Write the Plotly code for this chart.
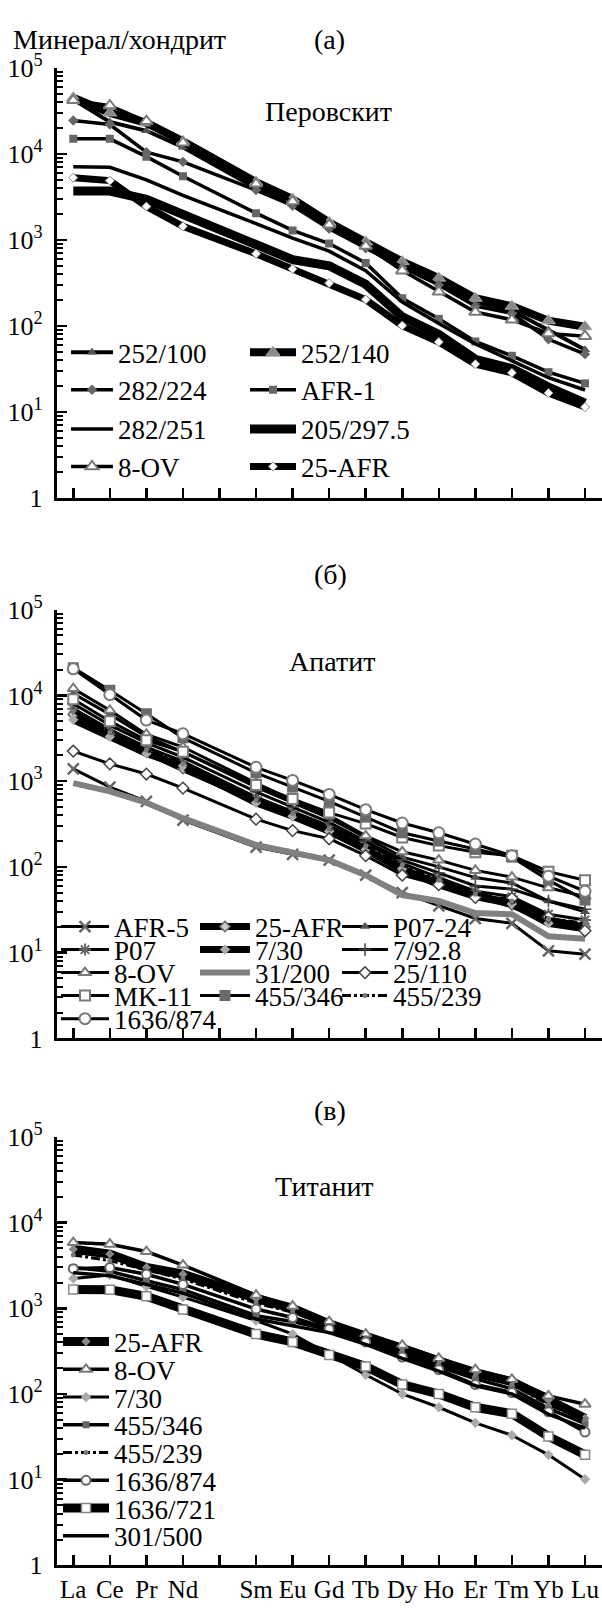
import plotly.graph_objects as go

# ---------------- data ----------------
ree = ["La", "Ce", "Pr", "Nd", "Sm", "Eu", "Gd", "Tb", "Dy", "Ho", "Er", "Tm", "Yb", "Lu"]
axis_labels = ["La", "Ce", "Pr", "Nd", "", "Sm", "Eu", "Gd", "Tb", "Dy", "Ho", "Er", "Tm", "Yb", "Lu"]

# (a) perovskite
per_252_100 = [43000, 23600, 18600, 12000, 4000, 2600, 1450, 900, 500, 320, 190, 150, 90, 53]
per_252_140 = [45000, 30000, 23000, 14000, 4700, 3000, 1600, 950, 560, 360, 210, 170, 115, 98]
per_282_224 = [24500, 22000, 10500, 8100, 3800, 2500, 1350, 800, 480, 300, 170, 140, 70, 47]
per_AFR_1 = [15000, 15000, 9300, 5500, 2050, 1290, 910, 540, 210, 121, 66, 45, 29, 21.5]
per_282_251 = [7100, 7000, 5000, 3300, 1550, 1050, 740, 440, 190, 107, 62, 39, 25, 18]
per_205_297 = [3700, 3700, 2970, 2000, 875, 590, 500, 305, 128, 80, 41, 32, 19.5, 12.7]
per_8_OV = [42000, 36500, 24000, 13500, 4500, 2800, 1500, 850, 440, 250, 145, 118, 82, 76]
per_25_AFR = [5300, 4900, 2450, 1440, 690, 460, 315, 203, 101, 65, 36, 28.5, 16.6, 11.4]

# (б) apatite
ap_AFR_5 = [1390, 850, 580, 350, 170, 140, 120, 80, 50, 35, 25, 22, 10.5, 9.6]
ap_25_AFR = [6000, 3500, 2200, 1400, 600, 400, 270, 160, 92, 65, 48, 36, 24, 20]
ap_P07_24 = [10500, 6000, 3300, 2200, 850, 560, 370, 220, 130, 100, 75, 65, 40, 30]
ap_P07 = [7000, 4000, 2500, 1700, 650, 440, 300, 190, 110, 75, 52, 45, 28, 24]
ap_7_30 = [5200, 3300, 2100, 1500, 560, 390, 260, 160, 95, 62, 45, 37, 22, 19]
ap_7_92 = [8000, 4500, 2800, 1900, 750, 500, 330, 200, 120, 85, 60, 55, 40, 32]
ap_8_OV = [12000, 6700, 3500, 2500, 950, 600, 400, 230, 150, 120, 91, 76, 57, 45]
ap_31_200 = [950, 760, 560, 370, 180, 145, 120, 80, 47, 40, 29, 28, 15.5, 14.5]
ap_25_110 = [2240, 1590, 1210, 830, 360, 265, 213, 135, 80, 62, 44, 43, 26, 18]
ap_MK_11 = [9000, 5000, 3000, 2200, 900, 620, 430, 320, 220, 177, 148, 135, 88, 70]
ap_455_346 = [21000, 11500, 6100, 3200, 1250, 850, 580, 380, 250, 200, 160, 130, 70, 41]
ap_455_239 = [6500, 3700, 2300, 1600, 600, 420, 280, 175, 105, 70, 48, 40, 25, 22]
ap_1636_874 = [20400, 10200, 5150, 3570, 1450, 1020, 700, 465, 325, 250, 185, 135, 78, 52]

# (в) titanite
ti_25_AFR = [4900, 4300, 3000, 2500, 1300, 1000, 660, 480, 350, 245, 175, 140, 85, 52]
ti_8_OV = [5850, 5600, 4600, 3200, 1420, 1060, 700, 500, 370, 260, 192, 148, 95, 76]
ti_7_30 = [2230, 2450, 1800, 1350, 720, 500, 290, 168, 100, 70, 46, 33, 19.5, 10.1]
ti_455_346 = [3000, 2700, 2100, 1650, 820, 700, 560, 420, 290, 210, 150, 115, 68, 45]
ti_455_239 = [4200, 3600, 2800, 2200, 1150, 900, 620, 450, 320, 230, 165, 130, 75, 50]
ti_1636_874 = [2900, 3000, 2500, 1900, 980, 780, 575, 405, 270, 192, 129, 104, 62, 36]
ti_1636_721 = [1660, 1650, 1380, 970, 500, 405, 285, 210, 129, 100, 70, 59, 32, 19.5]
ti_301_500 = [2600, 2400, 1900, 1500, 750, 620, 520, 380, 260, 185, 125, 100, 58, 40]

x_pos = [axis_labels.index(e) for e in ree]

# ---------------- figure ----------------
W, H = 602, 1613
FONT = "Liberation Serif, DejaVu Serif, Tinos, Times New Roman, Times, serif"
G = "#7a7a7a"


def py(p):
    return 1 - p / H


fig = go.Figure()
legend_layouts = {}
_count = [0]


def add(panel, name, values, pos, lw=3, lcolor="black", dash="solid",
        symbol=None, ms=8, mcolor=G, mlc=None, mlw=0):
    """pos = (symbol start x px, row centre y px, symbol width px)"""
    _count[0] += 1
    key = "legend" if _count[0] == 1 else "legend%d" % _count[0]
    sx, sy, iw = pos
    legend_layouts[key] = dict(
        x=(sx - 5) / W, y=py(sy), xanchor="left", yanchor="middle",
        itemwidth=iw, font=dict(family=FONT, size=27, color="black"),
        bgcolor="rgba(0,0,0,0)", borderwidth=0,
        itemclick=False, itemdoubleclick=False)
    sfx = "" if panel == 1 else str(panel)
    mode = "lines+markers" if symbol else "lines"
    marker = dict(symbol=symbol or "circle", size=ms, color=mcolor,
                  line=dict(color=mlc or mcolor, width=mlw))
    fig.add_trace(go.Scatter(
        x=x_pos, y=values, name=name, mode=mode, legend=key,
        xaxis="x" + sfx, yaxis="y" + sfx,
        line=dict(color=lcolor, width=lw, dash=dash),
        marker=marker, showlegend=True))


# legend grid positions (pixels)
A1, A2 = (71, 42), (250, 46)
A_rows = [341.7, 380, 420, 458.3]
B1, B2, B3 = (61, 48), (200, 50), (342, 46)
B_rows = [928, 951.5, 975, 998.5, 1022]
C1 = (63, 46)
C_rows = [1351.7 + 28.33 * k for k in range(8)]


def P(col, row):
    return (col[0], row, col[1])


# panel a
add(1, "252/100", per_252_100, P(A1, A_rows[0]), lw=4, symbol="triangle-up", ms=9, mcolor="#555")
add(1, "252/140", per_252_140, P(A2, A_rows[0]), lw=8, symbol="triangle-up", ms=12, mcolor="#888", mlc="#aaa", mlw=1)
add(1, "282/224", per_282_224, P(A1, A_rows[1]), lw=3.5, symbol="diamond", ms=8, mcolor="#666")
add(1, "AFR-1", per_AFR_1, P(A2, A_rows[1]), lw=3.5, symbol="square", ms=8, mcolor="#666")
add(1, "282/251", per_282_251, P(A1, A_rows[2]), lw=3.5)
add(1, "205/297.5", per_205_297, P(A2, A_rows[2]), lw=9)
add(1, "8-OV", per_8_OV, P(A1, A_rows[3]), lw=3.5, symbol="triangle-up", ms=11, mcolor="white", mlc=G, mlw=2)
add(1, "25-AFR", per_25_AFR, P(A2, A_rows[3]), lw=7, symbol="diamond", ms=7, mcolor="white", mlc="#888", mlw=1)

# panel b
add(2, "AFR-5", ap_AFR_5, P(B1, B_rows[0]), lw=3, symbol="x-thin", ms=11, mcolor="#666", mlc="#666", mlw=2.5)
add(2, "25-AFR", ap_25_AFR, P(B2, B_rows[0]), lw=7, symbol="diamond", ms=8, mcolor="#ccc", mlc="#666", mlw=1.5)
add(2, "P07-24", ap_P07_24, P(B3, B_rows[0]), lw=3, symbol="triangle-up", ms=9, mcolor="#555")
add(2, "P07", ap_P07, P(B1, B_rows[1]), lw=3, symbol="asterisk", ms=10, mcolor="#666", mlc="#666", mlw=2)
add(2, "7/30", ap_7_30, P(B2, B_rows[1]), lw=7, symbol="diamond", ms=8, mcolor="#aaa")
add(2, "7/92.8", ap_7_92, P(B3, B_rows[1]), lw=3, symbol="cross-thin", ms=9, mcolor="#444", mlc="#444", mlw=1.5)
add(2, "8-OV", ap_8_OV, P(B1, B_rows[2]), lw=3, symbol="triangle-up", ms=10, mcolor="white", mlc=G, mlw=2)
add(2, "31/200", ap_31_200, P(B2, B_rows[2]), lw=6, lcolor="#808080")
add(2, "25/110", ap_25_110, P(B3, B_rows[2]), lw=3, symbol="diamond", ms=9, mcolor="white", mlc="#444", mlw=1.5)
add(2, "MK-11", ap_MK_11, P(B1, B_rows[3]), lw=3, symbol="square", ms=10, mcolor="white", mlc=G, mlw=2)
add(2, "455/346", ap_455_346, P(B2, B_rows[3]), lw=3, symbol="square", ms=11, mcolor="#6a6a6a")
add(2, "455/239", ap_455_239, P(B3, B_rows[3]), lw=3, dash="dashdot", symbol="circle", ms=5, mcolor=G)
add(2, "1636/874", ap_1636_874, P(B1, B_rows[4]), lw=3, symbol="circle", ms=11, mcolor="white", mlc=G, mlw=2)

# panel c
add(3, "25-AFR", ti_25_AFR, P(C1, C_rows[0]), lw=9, symbol="diamond", ms=7, mcolor="#888")
add(3, "8-OV", ti_8_OV, P(C1, C_rows[1]), lw=3.5, symbol="triangle-up", ms=10, mcolor="white", mlc=G, mlw=2)
add(3, "7/30", ti_7_30, P(C1, C_rows[2]), lw=3, symbol="diamond", ms=8, mcolor="#aaa")
add(3, "455/346", ti_455_346, P(C1, C_rows[3]), lw=3.5, symbol="square", ms=7, mcolor="#666")
add(3, "455/239", ti_455_239, P(C1, C_rows[4]), lw=3, dash="dashdot", symbol="circle", ms=5, mcolor=G)
add(3, "1636/874", ti_1636_874, P(C1, C_rows[5]), lw=3.5, symbol="circle", ms=9, mcolor="white", mlc="#666", mlw=2)
add(3, "1636/721", ti_1636_721, P(C1, C_rows[6]), lw=9, symbol="square", ms=9, mcolor="white", mlc="#888", mlw=1.5)
add(3, "301/500", ti_301_500, P(C1, C_rows[7]), lw=3.5)


panels = [(51, 490), (604, 1041.7), (1142.3, 1579.7)]
x_domain = [56.7 / W, 1]
x_range = [-0.454, 14.465]
dec_vals = [1, 10, 100, 1000, 10000, 100000]
dec_text = ["1", "10<sup>1</sup>", "10<sup>2</sup>", "10<sup>3</sup>", "10<sup>4</sup>", "10<sup>5</sup>"]
minor_vals = [m * 10 ** k for k in range(5) for m in range(2, 10)]

layout = dict(
    width=W, height=H, autosize=False,
    margin=dict(l=0, r=0, t=0, b=0),
    paper_bgcolor="white", plot_bgcolor="white",
    font=dict(family=FONT, color="black", size=27),
)

for i, (top, bot) in enumerate(panels, start=1):
    sfx = "" if i == 1 else str(i)
    layout["xaxis" + sfx] = dict(
        domain=x_domain, anchor="y" + sfx, range=x_range,
        tickmode="array", tickvals=list(range(len(axis_labels))), ticktext=axis_labels,
        showticklabels=(i == 3), ticks="inside", ticklen=10, tickwidth=2.5, tickcolor="black",
        showline=True, linewidth=3, linecolor="black", showgrid=False, zeroline=False,
        tickfont=dict(family=FONT, size=25, color="black"), fixedrange=True)
    layout["yaxis" + sfx] = dict(
        domain=[py(bot), py(top)], anchor="x" + sfx, type="log", range=[0, 5],
        tickmode="array", tickvals=dec_vals, ticktext=dec_text,
        ticks="inside", ticklen=10, tickwidth=2.5, tickcolor="black",
        minor=dict(tickmode="array", tickvals=minor_vals, ticks="inside", ticklen=6,
                   tickwidth=2, tickcolor="black", showgrid=False),
        showline=True, linewidth=3, linecolor="black", showgrid=False, zeroline=False,
        tickfont=dict(family=FONT, size=26, color="black"), ticklabelstandoff=6, fixedrange=True)

layout.update(legend_layouts)


def ann(text, x, y, anchor="center", size=28):
    return dict(text=text, x=x / W, y=py(y), xref="paper", yref="paper",
                xanchor=anchor, yanchor="middle", showarrow=False,
                font=dict(family=FONT, size=size, color="black"))


layout["annotations"] = [
    ann("Минерал/хондрит", 11, 22, anchor="left"),
    ann("(а)", 329, 22),
    ann("Перовскит", 328, 95),
    ann("(б)", 330, 568),
    ann("Апатит", 332, 657),
    ann("(в)", 330, 1115),
    ann("Титанит", 324, 1193),
]

fig.update_layout(**layout)

# remove the browser's default page margin so the 602x1613 figure fills the window
page_fix = ("document.body.style.margin='0';document.body.style.padding='0';"
            "document.documentElement.style.margin='0';"
            "document.documentElement.style.overflow='hidden';"
            "document.body.style.overflow='hidden';")
fig.write_html("out.html", post_script=page_fix,
               config={"displayModeBar": False, "staticPlot": True})
